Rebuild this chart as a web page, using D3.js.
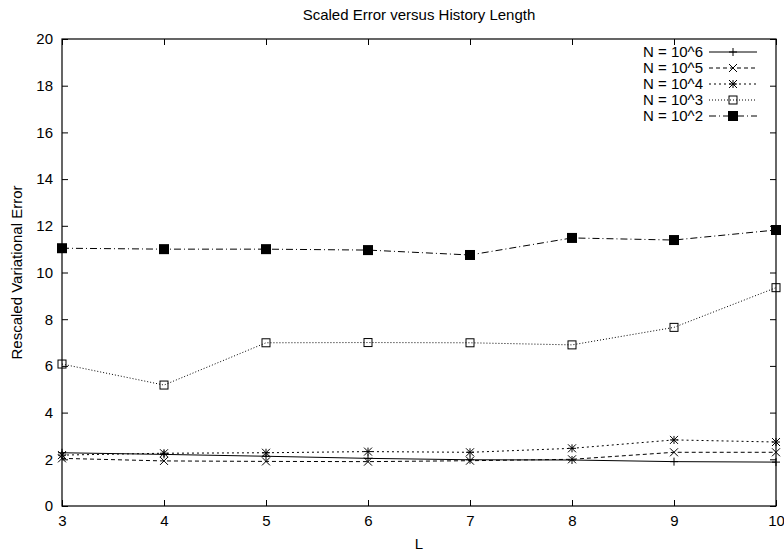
<!DOCTYPE html>
<html>
<head>
<meta charset="utf-8">
<script src="https://cdn.jsdelivr.net/npm/d3@7"></script>
<style>
  body { margin: 0; background: #fff; }
  svg { font-family: "Liberation Sans", Arial, sans-serif; }
</style>
</head>
<body>
<div id="chart"></div>
<script>
// data
var historyLengths = [3, 4, 5, 6, 7, 8, 9, 10];
var seriesNames = ["N = 10^6", "N = 10^5", "N = 10^4", "N = 10^3", "N = 10^2"];
var errN6 = [2.28, 2.21, 2.13, 2.04, 1.98, 1.97, 1.90, 1.88];
var errN5 = [2.04, 1.93, 1.91, 1.90, 1.94, 2.00, 2.30, 2.30];
var errN4 = [2.18, 2.26, 2.28, 2.33, 2.30, 2.47, 2.83, 2.74];
var errN3 = [6.08, 5.18, 6.99, 7.00, 6.99, 6.90, 7.65, 9.35];
var errN2 = [11.04, 11.00, 11.00, 10.96, 10.75, 11.48, 11.39, 11.82];
var yTicks = [0, 2, 4, 6, 8, 10, 12, 14, 16, 18, 20];

var allSeries = [errN6, errN5, errN4, errN3, errN2];
var dashes = ["none", "4,3", "2,3", "1,2", "7,3,1,3"];
var symbols = ["plus", "cross", "star", "box", "fbox"];

var width = 784, height = 552;
var plotLeft = 62, plotRight = 776, plotTop = 39, plotBottom = 506;
var fontSize = 15;

var svg = d3.select("#chart").append("svg")
  .attr("width", width)
  .attr("height", height);

var x = d3.scaleLinear().domain([3, 10]).range([plotLeft, plotRight]);
var y = d3.scaleLinear().domain([0, 20]).range([plotBottom, plotTop]);

// frame
svg.append("rect")
  .attr("x", plotLeft).attr("y", plotTop)
  .attr("width", plotRight - plotLeft).attr("height", plotBottom - plotTop)
  .attr("fill", "none").attr("stroke", "#000").attr("stroke-width", 1.2);

// axes with inward ticks, mirrored on top/right
var xAxis = d3.axisBottom(x).tickValues(historyLengths).tickFormat(d3.format("d"))
  .tickSizeInner(-6).tickSizeOuter(0).tickPadding(9);
var yAxis = d3.axisLeft(y).tickValues(yTicks).tickFormat(d3.format("d"))
  .tickSizeInner(-6).tickSizeOuter(0).tickPadding(9);

var gx = svg.append("g").attr("transform", "translate(0," + plotBottom + ")").call(xAxis);
var gy = svg.append("g").attr("transform", "translate(" + plotLeft + ",0)").call(yAxis);
var gx2 = svg.append("g").attr("transform", "translate(0," + plotTop + ")")
  .call(d3.axisTop(x).tickValues(historyLengths).tickSizeInner(-6).tickSizeOuter(0).tickFormat(""));
var gy2 = svg.append("g").attr("transform", "translate(" + plotRight + ",0)")
  .call(d3.axisRight(y).tickValues(yTicks).tickSizeInner(-6).tickSizeOuter(0).tickFormat(""));

[gx, gy, gx2, gy2].forEach(function(g) {
  g.select(".domain").remove();
  g.selectAll("line").attr("stroke", "#000");
  g.selectAll("text").attr("font-size", fontSize).attr("fill", "#000")
    .attr("font-family", "Liberation Sans, Arial, sans-serif");
});

// titles
svg.append("text").attr("x", 419).attr("y", 20).attr("text-anchor", "middle")
  .attr("font-size", fontSize).text("Scaled Error versus History Length");
svg.append("text").attr("x", 419).attr("y", 549).attr("text-anchor", "middle")
  .attr("font-size", fontSize).text("L");
svg.append("text").attr("transform", "translate(22," + ((plotTop + plotBottom) / 2) + ") rotate(-90)")
  .attr("text-anchor", "middle").attr("font-size", fontSize).text("Rescaled Variational Error");

function drawSymbol(g, type, cx, cy) {
  var s = 4;
  if (type == "plus") {
    g.append("path").attr("d", "M" + (cx - s) + "," + cy + "H" + (cx + s) + "M" + cx + "," + (cy - s) + "V" + (cy + s))
      .attr("stroke", "#000").attr("fill", "none");
  } else if (type == "cross") {
    g.append("path").attr("d", "M" + (cx - s) + "," + (cy - s) + "L" + (cx + s) + "," + (cy + s) + "M" + (cx - s) + "," + (cy + s) + "L" + (cx + s) + "," + (cy - s))
      .attr("stroke", "#000").attr("fill", "none");
  } else if (type == "star") {
    g.append("path").attr("d", "M" + (cx - s) + "," + cy + "H" + (cx + s) + "M" + cx + "," + (cy - s) + "V" + (cy + s) +
      "M" + (cx - s) + "," + (cy - s) + "L" + (cx + s) + "," + (cy + s) + "M" + (cx - s) + "," + (cy + s) + "L" + (cx + s) + "," + (cy - s))
      .attr("stroke", "#000").attr("fill", "none");
  } else if (type == "box") {
    g.append("rect").attr("x", cx - s).attr("y", cy - s).attr("width", 2 * s).attr("height", 2 * s)
      .attr("stroke", "#000").attr("fill", "none");
  } else {
    g.append("rect").attr("x", cx - 5).attr("y", cy - 5).attr("width", 10).attr("height", 10)
      .attr("fill", "#000");
  }
}

var line = d3.line()
  .x(function(d, i) { return x(historyLengths[i]); })
  .y(function(d) { return y(d); });

// draw series from last to first so solid line sits on top
for (var k = allSeries.length - 1; k >= 0; k--) {
  var g = svg.append("g");
  g.append("path")
    .attr("d", line(allSeries[k]))
    .attr("fill", "none")
    .attr("stroke", "#000")
    .attr("stroke-width", 1)
    .attr("stroke-dasharray", dashes[k]);
  for (var i = 0; i < historyLengths.length; i++) {
    drawSymbol(g, symbols[k], x(historyLengths[i]), y(allSeries[k][i]));
  }
}

// legend
var legend = svg.append("g");
seriesNames.forEach(function(name, k) {
  var ly = 52 + k * 16;
  legend.append("text").attr("x", 703).attr("y", ly + 5).attr("text-anchor", "end")
    .attr("font-size", fontSize).text(name);
  legend.append("line").attr("x1", 709).attr("x2", 757).attr("y1", ly).attr("y2", ly)
    .attr("stroke", "#000").attr("stroke-dasharray", dashes[k]);
  drawSymbol(legend, symbols[k], 733, ly);
});
</script>
</body>
</html>
